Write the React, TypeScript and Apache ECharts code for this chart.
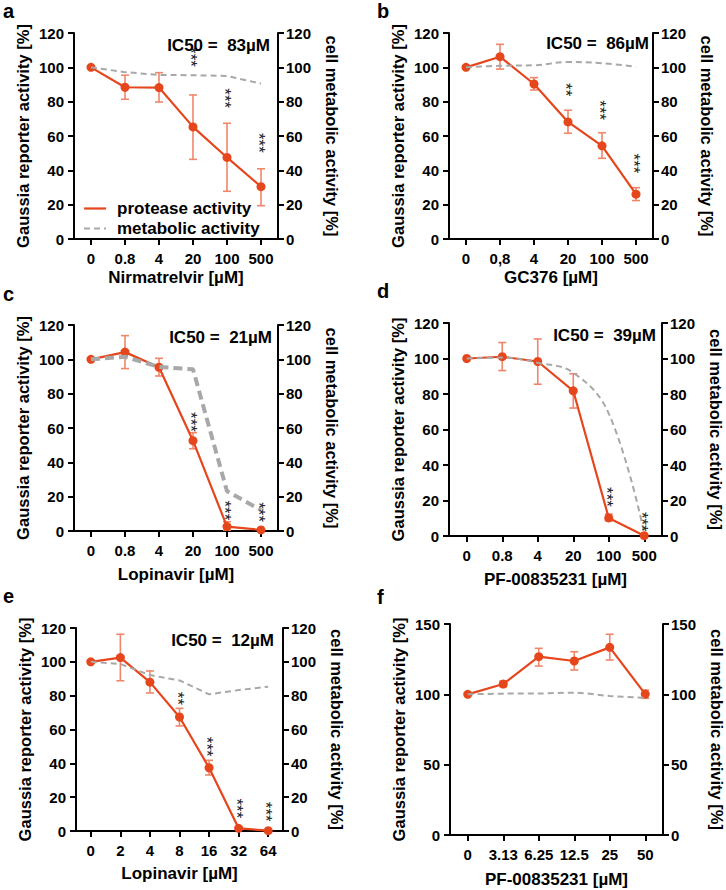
import React, { useEffect, useRef } from "react";
import * as echarts from "echarts";

const FONT = '"Liberation Sans", Arial, Helvetica, sans-serif';
const RED = "#e5461c";
const ERR = "#f0866a";
const GRAY = "#a8a8a8";

// ---------- data ----------
const catsA = ["0", "0.8", "4", "20", "100", "500"];
const protA = [100, 88.4, 88.2, 65.3, 47.5, 30.5];
const hiA = [100, 95.4, 96.9, 83.9, 67.4, 40.9];
const loA = [100, 81.4, 79.8, 46.4, 27.8, 19.4];
const metA = [100, 97.2, 95.6, 95.4, 95.0, 90.5];
const sigA = ["", "", "", "***", "***", "***"];
const sigYA = [0, 0, 0, 106, 82, 56];

const catsB = ["0", "0,8", "4", "20", "100", "500"];
const protB = [100, 106.2, 90.3, 68.2, 54.3, 26.1];
const hiB = [100, 113.4, 94.0, 75.0, 61.9, 29.9];
const loB = [100, 99.0, 86.8, 61.6, 47.0, 22.4];
const metB = [100, 100.9, 101.2, 103.1, 102.4, 100.3];
const sigB = ["", "", "", "**", "***", "***"];
const sigYB = [0, 0, 0, 87, 75, 44];

const catsC = ["0", "0.8", "4", "20", "100", "500"];
const protC = [100, 104.2, 95.4, 52.6, 2.6, 0.6];
const hiC = [100, 113.8, 100.6, 57.3, 5.4, 0.6];
const loC = [100, 94.6, 90.3, 47.9, 0.5, 0.6];
const metC = [100, 101.5, 95.6, 94.2, 23.2, 12.2];
const sigC = ["", "", "", "***", "***", "***"];
const sigYC = [0, 0, 0, 63.5, 12, 11];

const catsD = ["0", "0.8", "4", "20", "100", "500"];
const protD = [100, 101, 98.3, 81.8, 10.2, 0.2];
const hiD = [100, 109, 111, 91.4, 12.3, 0.2];
const loD = [100, 93.2, 85.5, 72.1, 8.5, 0.2];
const metD = [100, 100.5, 97.6, 92.0, 69.0, 1.5];
const sigD = ["", "", "", "", "***", "***"];
const sigYD = [0, 0, 0, 0, 22, 8];

const catsE = ["0", "2", "4", "8", "16", "32", "64"];
const protE = [100, 102.5, 88, 67.4, 37.4, 1.6, 0.2];
const hiE = [100, 116.3, 94.6, 72.5, 41.8, 1.6, 0.2];
const loE = [100, 88.8, 81.6, 62.1, 33.1, 1.6, 0.2];
const metE = [100, 98.7, 92.2, 89.0, 80.8, 83.3, 85.3];
const sigE = ["", "", "", "**", "***", "***", "***"];
const sigYE = [0, 0, 0, 78.4, 49.8, 13.4, 11.4];

const catsF = ["0", "3.13", "6.25", "12.5", "25", "50"];
const protF = [100, 107.3, 126.8, 123.7, 133.4, 100.2];
const hiF = [100, 109.5, 132.7, 130.3, 142.7, 103];
const loF = [100, 105.4, 120.1, 117.3, 124.4, 97.2];
const metF = [100, 100.5, 100.6, 101.2, 98.8, 97.6];
const sigF = ["", "", "", "", "", ""];
const sigYF = [0, 0, 0, 0, 0, 0];

const xNames = ["Nirmatrelvir [µM]", "GC376 [µM]", "Lopinavir [µM]", "PF-00835231 [µM]", "Lopinavir [µM]", "PF-00835231 [µM]"];
const ic50Labels = ["IC50 =  83µM", "IC50 =  86µM", "IC50 =  21µM", "IC50 =  39µM", "IC50 =  12µM", ""];
const letters = ["a", "b", "c", "d", "e", "f"];
const leftName = "Gaussia reporter activity [%]";
const rightName = "cell metabolic activity [%]";
const protName = "protease activity";
const metName = "metabolic activity";

// ---------- layout ----------
const panels = [
  { cats: catsA, prot: protA, hi: hiA, lo: loA, met: metA, sig: sigA, sigY: sigYA, yMax: 120, yInt: 20, xGap: 30,
    box: { left: 74, top: 33, width: 204, height: 206 }, ic: [270, 45], letter: [3, 21], dashW: 2, dash: [6, 4], smooth: false },
  { cats: catsB, prot: protB, hi: hiB, lo: loB, met: metB, sig: sigB, sigY: sigYB, yMax: 120, yInt: 20, xGap: 30,
    box: { left: 449, top: 33, width: 204, height: 206 }, ic: [649, 43], letter: [377, 21], dashW: 2, dash: [6, 4], smooth: 0.4 },
  { cats: catsC, prot: protC, hi: hiC, lo: loC, met: metC, sig: sigC, sigY: sigYC, yMax: 120, yInt: 20, xGap: 35,
    box: { left: 74, top: 325, width: 204, height: 206 }, ic: [272, 337], letter: [3, 304], dashW: 4, dash: [9, 5], smooth: false },
  { cats: catsD, prot: protD, hi: hiD, lo: loD, met: metD, sig: sigD, sigY: sigYD, yMax: 120, yInt: 20, xGap: 35,
    box: { left: 449, top: 323, width: 213, height: 213 }, ic: [656, 335], letter: [377, 301], dashW: 2, dash: [6, 4], smooth: 0.4 },
  { cats: catsE, prot: protE, hi: hiE, lo: loE, met: metE, sig: sigE, sigY: sigYE, yMax: 120, yInt: 20, xGap: 34,
    box: { left: 76, top: 628, width: 207, height: 203 }, ic: [274, 640], letter: [3, 606], dashW: 2, dash: [6, 4], smooth: false },
  { cats: catsF, prot: protF, hi: hiF, lo: loF, met: metF, sig: sigF, sigY: sigYF, yMax: 150, yInt: 50, xGap: 36,
    box: { left: 450, top: 624, width: 213, height: 211 }, ic: [0, 0], letter: [377, 607], dashW: 2, dash: [6, 4], smooth: 0.3 },
];

function buildOption() {
  const grid: any[] = [];
  const xAxis: any[] = [];
  const yAxis: any[] = [];
  const series: any[] = [];
  const graphic: any[] = [];

  const axisLine = { show: true, lineStyle: { color: "#000", width: 2 } };
  const axisTick = { show: true, length: 6, lineStyle: { color: "#000", width: 2 } };
  const tickLabel = { color: "#000", fontFamily: FONT, fontWeight: "bold", fontSize: 15 };
  const nameStyle = { color: "#000", fontFamily: FONT, fontWeight: "bold", fontSize: 16.5 };

  panels.forEach((p, i) => {
    grid.push({ ...p.box });
    xAxis.push({
      type: "category", gridIndex: i, data: p.cats, boundaryGap: true,
      axisLine, axisTick: { ...axisTick, alignWithLabel: true },
      axisLabel: { ...tickLabel, margin: 12, interval: 0 },
      splitLine: { show: false },
      name: xNames[i], nameLocation: "middle", nameGap: p.xGap, nameTextStyle: { ...nameStyle, fontSize: 17 },
    });
    yAxis.push({
      type: "value", gridIndex: i, position: "left", min: 0, max: p.yMax, interval: p.yInt,
      axisLine, axisTick, axisLabel: { ...tickLabel, margin: 10 }, splitLine: { show: false },
      name: leftName, nameLocation: "middle", nameGap: 43, nameTextStyle: nameStyle,
    });
    yAxis.push({
      type: "value", gridIndex: i, position: "right", min: 0, max: p.yMax, interval: p.yInt,
      axisLine, axisTick, axisLabel: { ...tickLabel, margin: 8 }, splitLine: { show: false },
      name: rightName, nameLocation: "middle", nameGap: 45, nameRotate: -90, nameTextStyle: nameStyle,
    });

    // error bars
    const errData = p.cats.map((_, j) => [j, p.lo[j], p.hi[j]]);
    series.push({
      type: "custom", xAxisIndex: i, yAxisIndex: 2 * i, z: 2, silent: true,
      data: errData, encode: { x: 0, y: [1, 2] }, clip: false,
      renderItem: (params: any, api: any) => {
        const xv = api.value(0);
        const a = api.coord([xv, api.value(1)]);
        const b = api.coord([xv, api.value(2)]);
        if (Math.abs(a[1] - b[1]) < 1) return null;
        const st = { stroke: ERR, lineWidth: 1.6 };
        const hw = 4;
        return {
          type: "group",
          children: [
            { type: "line", shape: { x1: a[0], y1: a[1], x2: b[0], y2: b[1] }, style: st },
            { type: "line", shape: { x1: a[0] - hw, y1: a[1], x2: a[0] + hw, y2: a[1] }, style: st },
            { type: "line", shape: { x1: b[0] - hw, y1: b[1], x2: b[0] + hw, y2: b[1] }, style: st },
          ],
        };
      },
    });
    // protease
    series.push({
      type: "line", name: protName, xAxisIndex: i, yAxisIndex: 2 * i, z: 3, data: p.prot,
      symbol: "circle", symbolSize: 9, showSymbol: true, smooth: false,
      itemStyle: { color: RED }, lineStyle: { color: RED, width: 2.2 },
    });
    // metabolic
    series.push({
      type: "line", name: metName, xAxisIndex: i, yAxisIndex: 2 * i, z: 4, data: p.met,
      symbol: "none", showSymbol: false, smooth: p.smooth,
      itemStyle: { color: GRAY }, lineStyle: { color: GRAY, width: p.dashW, type: p.dash },
    });
    // significance asterisks
    const sigIdx = p.sig.map((s, j) => (s ? j : -1)).filter((j) => j >= 0);
    if (sigIdx.length) {
      series.push({
        type: "custom", xAxisIndex: i, yAxisIndex: 2 * i, z: 5, silent: true, clip: false,
        data: sigIdx.map((j) => [j, p.sigY[j]]), encode: { x: 0, y: 1 },
        renderItem: (params: any, api: any) => {
          const j = sigIdx[params.dataIndex];
          const c = api.coord([api.value(0), api.value(1)]);
          return {
            type: "text", x: c[0] - 2.5, y: c[1], rotation: -Math.PI / 2,
            style: {
              text: p.sig[j], x: 0, y: 0, align: "center", verticalAlign: "middle",
              fill: "#222", fontFamily: FONT, fontSize: 17,
            },
          };
        },
      });
    }
    // IC50 label
    if (ic50Labels[i]) {
      graphic.push({
        type: "text", x: p.ic[0], y: p.ic[1], z: 10,
        style: { text: ic50Labels[i], align: "right", verticalAlign: "middle", fill: "#000", fontFamily: FONT, fontWeight: "bold", fontSize: 17 },
      });
    }
    graphic.push({
      type: "text", x: p.letter[0], y: p.letter[1],
      style: { text: letters[i], align: "left", verticalAlign: "bottom", fill: "#000", fontFamily: FONT, fontWeight: "bold", fontSize: 20 },
    });
  });

  const legendCommon = {
    orient: "horizontal", itemWidth: 22, itemHeight: 2, selectedMode: false,
    itemStyle: { opacity: 0 },
    textStyle: { color: "#000", fontFamily: FONT, fontWeight: "bold", fontSize: 17, padding: [0, 0, 0, 6] },
  };
  const legend = [
    { ...legendCommon, left: 78, top: 195, data: [protName], lineStyle: { color: RED, width: 2.2, type: "solid" } },
    { ...legendCommon, left: 78, top: 215, data: [metName], lineStyle: { color: GRAY, width: 2, type: [6, 4] } },
  ];

  return { animation: false, backgroundColor: "#fff", grid, xAxis, yAxis, series, graphic, legend };
}

export default function App() {
  const ref = useRef<HTMLDivElement>(null);
  useEffect(() => {
    document.body.style.margin = "0";
    const chart = echarts.init(ref.current!, null, { renderer: "svg" });
    chart.setOption(buildOption() as any);
    return () => chart.dispose();
  }, []);
  return <div ref={ref} style={{ width: 726, height: 890 }} />;
}
